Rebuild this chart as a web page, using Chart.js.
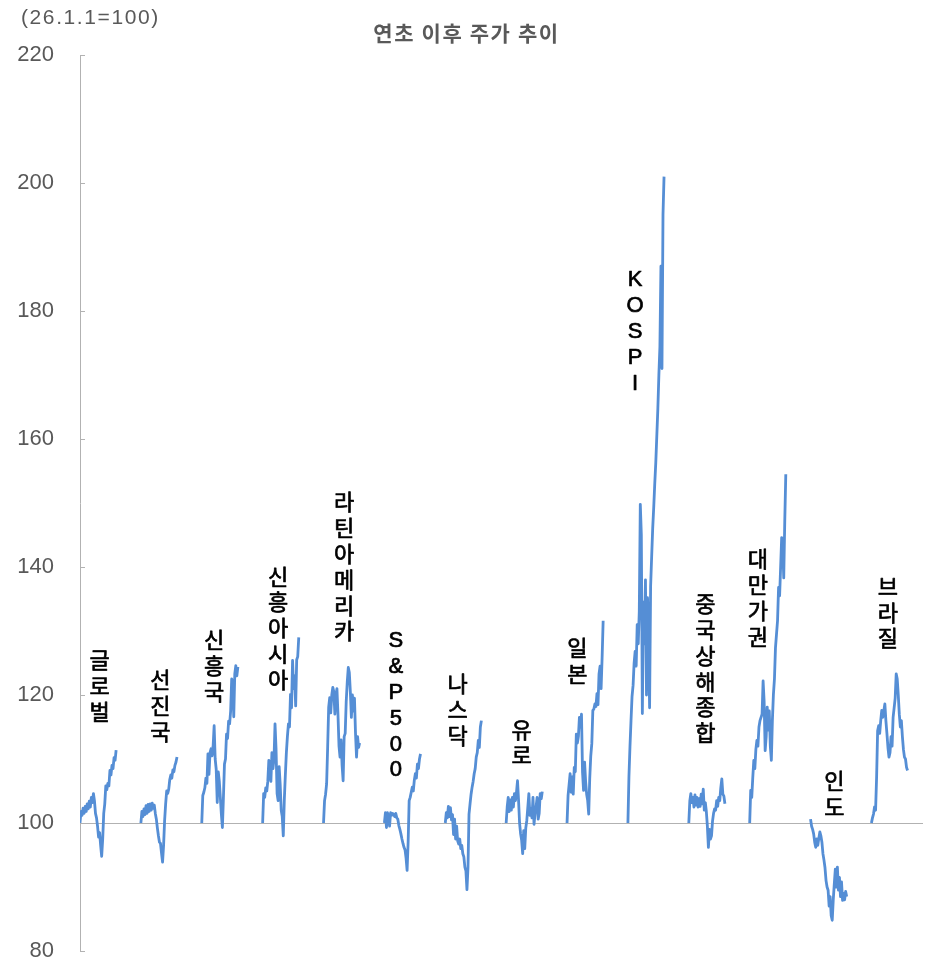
<!DOCTYPE html>
<html>
<head>
<meta charset="utf-8">
<script src="https://cdn.jsdelivr.net/npm/chart.js@4.4.1/dist/chart.umd.min.js"></script>
<style>
  html, body { margin: 0; padding: 0; background: #ffffff; }
  #wrap { width: 931px; height: 961px; }
</style>
</head>
<body>
<div id="wrap"><canvas id="chart" width="931" height="961"></canvas></div>
<script>
// Market names, in drawing order (left to right)
const markets = ['글로벌', '선진국', '신흥국', '신흥아시아', '라틴아메리카', 'S&P500', '나스닥',
                 '유로', '일본', 'KOSPI', '중국상해종합', '대만가권', '인도', '브라질'];

// Daily index levels since the start of the year (26.1.1 = 100)
const globalIdx   = [100,101.8,101.2,102.3,101.5,102.6,101.8,103.0,102.2,103.4,102.5,104.0,103.2,104.6,103.5,101.5,100.8,99.5,97.8,98.5,96.5,94.8,97.5,101.5,103.0,105.8,105.2,106.2,105.8,108.2,107.5,109.0,108.5,110.2,109.8,111.4];
const developed   = [100,101.8,101.0,102.2,101.3,102.7,101.5,102.9,101.8,103.0,102.0,103.1,102.3,102.8,101.5,100.6,99.2,98.0,97.0,96.8,95.3,93.9,96.5,100.4,103.0,105.0,104.6,105.3,106.8,107.5,107.0,108.3,108.0,109.0,109.5,110.3];
const emerging    = [100,104.3,104.8,105.5,107.0,106.2,110.8,107.6,111.0,111.6,110.5,112.0,115.2,110.0,108.4,103.2,108.0,106.5,104.0,101.4,99.3,104.0,109.2,110.0,113.9,113.2,115.9,115.5,117.5,122.5,122.0,116.6,123.3,124.6,123.0,124.4];
const emAsia      = [100,104.6,104.0,105.5,105.0,106.5,109.8,107.5,106.5,111.0,108.5,110.0,115.5,111.5,104.6,103.5,108.8,106.0,102.0,101.0,98.0,103.6,107.5,111.0,113.5,115.5,115.0,120.1,118.0,125.4,121.0,123.0,118.3,125.5,126.0,129.0];
const latam       = [100,103.5,104.5,106.1,111.8,118.1,119.6,117.2,120.0,121.2,120.5,117.0,120.0,121.0,117.0,112.0,110.3,113.0,109.0,106.6,113.5,114.0,119.0,122.0,124.3,123.5,120.5,116.5,120.0,117.5,119.5,114.0,110.3,113.5,111.8,112.5];
const sp500       = [100,101.6,99.3,101.6,101.0,99.5,101.6,101.2,101.5,101.3,101.0,101.5,100.8,100.6,99.6,99.0,98.3,97.5,96.8,96.2,95.8,94.5,92.6,97.0,103.5,104.0,104.8,105.6,105.0,106.7,107.7,107.0,109.2,108.5,110.0,110.8];
const nasdaq      = [100,101.6,100.8,102.6,101.0,102.4,100.5,101.3,98.2,100.6,97.5,99.5,97.2,96.7,97.5,96.0,96.5,95.2,94.7,93.1,92.5,89.6,93.0,101.4,103.0,104.5,105.6,106.5,107.7,108.5,110.3,111.0,112.9,111.8,115.0,116.0];
const euro        = [100,102.5,104.0,101.8,103.6,102.0,104.0,102.5,104.6,103.5,104.8,106.6,103.6,100.0,98.3,97.3,95.2,98.8,96.0,99.2,100.4,102.5,104.6,101.2,102.3,100.8,104.0,99.8,101.5,102.5,104.0,100.6,101.5,104.6,103.8,104.9];
const japan       = [100,104.3,106.0,107.7,104.8,107.2,104.5,108.7,108.0,113.9,112.5,113.5,116.5,115.0,117.0,108.0,105.1,109.5,106.5,104.5,103.5,101.4,107.0,110.5,112.4,117.6,117.8,118.6,118.2,120.2,118.5,123.3,124.5,121.0,125.9,131.6];
const kospi       = [100,107.3,112.0,116.0,119.8,121.5,125.0,126.8,124.5,131.0,128.0,133.0,149.8,145.0,117.1,134.5,128.0,138.0,120.0,135.2,130.0,118.0,137.0,141.6,146.0,149.3,153.0,156.3,160.5,164.7,170.0,174.4,187.0,171.0,195.1,201.0];
const shanghai    = [100,103.5,104.6,103.2,104.0,102.5,104.4,102.8,104.0,102.5,103.8,102.6,104.5,103.0,105.3,102.0,103.2,101.8,99.5,96.2,99.0,97.5,98.0,100.3,101.5,102.2,102.0,103.5,102.6,104.0,103.5,105.5,106.9,104.5,104.2,103.0];
const taiwan      = [100,105.1,104.0,107.1,109.8,108.5,111.5,112.9,112.0,115.0,116.0,116.5,117.0,122.2,119.0,111.3,113.5,118.1,114.5,117.5,112.0,109.8,116.0,120.1,122.5,127.4,129.5,131.6,136.8,135.5,140.0,144.6,143.5,138.3,147.2,154.5];
const india       = [100.6,99.5,99.0,98.3,97.0,96.2,97.5,96.5,97.6,98.6,98.0,97.0,95.2,94.2,93.0,91.0,90.0,89.5,87.0,88.5,85.5,84.8,88.0,90.5,92.8,90.0,93.1,89.5,91.5,88.5,90.8,87.9,89.0,88.0,89.3,88.5];
const brazil      = [100,100.8,101.4,102.5,102.0,107.1,114.4,115.2,114.0,116.0,117.6,116.5,117.5,118.6,116.0,114.0,111.8,110.3,111.0,113.5,112.0,116.5,118.0,119.5,123.3,122.5,120.0,117.0,115.0,116.0,113.5,111.5,110.3,110.0,108.7,108.2];

const seriesList = [globalIdx, developed, emerging, emAsia, latam, sp500, nasdaq,
                    euro, japan, kospi, shanghai, taiwan, india, brazil];

// Y axis range and tick step
const yMin = 80, yMax = 220, yStep = 20;

// ---- layout (not data) ----
const SLOT = 59;          // x units reserved for each market (trading days + gap)
const X_MAX = 816;        // right end of the x range
// where each vertical name sits: x offset inside its slot, y value of the first character
const labelOffset = [19, 19, 12, 15, 20, 11, 12, 15, 10, 7, 16, 8, 23, 16];
const labelTop    = [125.1, 122.0, 128.3, 138.2, 149.8, 128.4, 121.4, 114.3, 127.0, 184.8, 133.9, 140.9, 106.3, 136.6];
const LINE_STEP = 25.8;   // px between stacked characters

const AXIS_COLOR = '#b2b2b2';
const TEXT_GRAY = '#595959';
const LINE_BLUE = '#558ed5';

const datasets = seriesList.map((vals, k) => ({
  label: markets[k],
  data: vals.map((v, i) => ({ x: k * SLOT + i, y: v })),
  borderColor: LINE_BLUE,
  borderWidth: 2.8,
  borderJoinStyle: 'round',
  pointRadius: 0,
  pointHoverRadius: 0,
  tension: 0,
  fill: false
}));

const decorations = {
  id: 'decorations',
  afterDraw(chart) {
    const { ctx, scales: { x, y } } = chart;
    ctx.save();

    // short inward tick marks on the value axis
    ctx.strokeStyle = AXIS_COLOR;
    ctx.lineWidth = 1;
    y.ticks.forEach(t => {
      const py = Math.round(y.getPixelForValue(t.value)) + 0.5;
      ctx.beginPath();
      ctx.moveTo(x.left, py);
      ctx.lineTo(x.left + 5, py);
      ctx.stroke();
    });

    // vertical market names (slightly heavier than regular weight)
    ctx.fillStyle = '#000000';
    ctx.strokeStyle = '#000000';
    ctx.lineWidth = 0.7;
    ctx.lineJoin = 'round';
    ctx.font = "22px 'Liberation Sans', 'Noto Sans CJK KR', sans-serif";
    ctx.textAlign = 'center';
    ctx.textBaseline = 'middle';
    markets.forEach((name, k) => {
      const cx = x.getPixelForValue(k * SLOT + labelOffset[k]);
      let cy = y.getPixelForValue(labelTop[k]);
      Array.from(name).forEach(ch => {
        ctx.fillText(ch, cx, cy);
        ctx.strokeText(ch, cx, cy);
        cy += LINE_STEP;
      });
    });

    // title
    ctx.fillStyle = TEXT_GRAY;
    ctx.font = "bold 21px 'Noto Sans CJK KR', sans-serif";
    ctx.letterSpacing = '1.6px';
    ctx.textAlign = 'center';
    ctx.fillText('연초 이후 주가 추이', chart.width / 2 + 1, 33);

    // base note
    ctx.font = "21px 'Liberation Sans', sans-serif";
    ctx.letterSpacing = '1.6px';
    ctx.textAlign = 'left';
    ctx.fillText('(26.1.1=100)', 21, 18.5);

    ctx.restore();
  }
};

new Chart(document.getElementById('chart'), {
  type: 'line',
  data: { datasets },
  options: {
    responsive: false,
    animation: false,
    devicePixelRatio: 1,
    layout: { padding: { top: 55, bottom: 10, left: 0, right: 9 } },
    plugins: {
      legend: { display: false },
      title: { display: false },
      tooltip: { enabled: false }
    },
    scales: {
      x: {
        type: 'linear',
        min: 0,
        max: X_MAX,
        position: { y: 100 },
        grid: { display: false, drawTicks: false },
        ticks: { display: false },
        border: { display: true, color: AXIS_COLOR, width: 1 }
      },
      y: {
        min: yMin,
        max: yMax,
        ticks: {
          stepSize: yStep,
          padding: 26,
          color: TEXT_GRAY,
          font: { family: "'Liberation Sans', sans-serif", size: 22 }
        },
        grid: { display: false, drawTicks: false },
        border: { display: true, color: AXIS_COLOR, width: 1 },
        afterFit(scale) {
          scale.width = 80;
          scale.paddingTop = 0;
          scale.paddingBottom = 0;
        }
      }
    }
  },
  plugins: [decorations]
});
</script>
</body>
</html>
